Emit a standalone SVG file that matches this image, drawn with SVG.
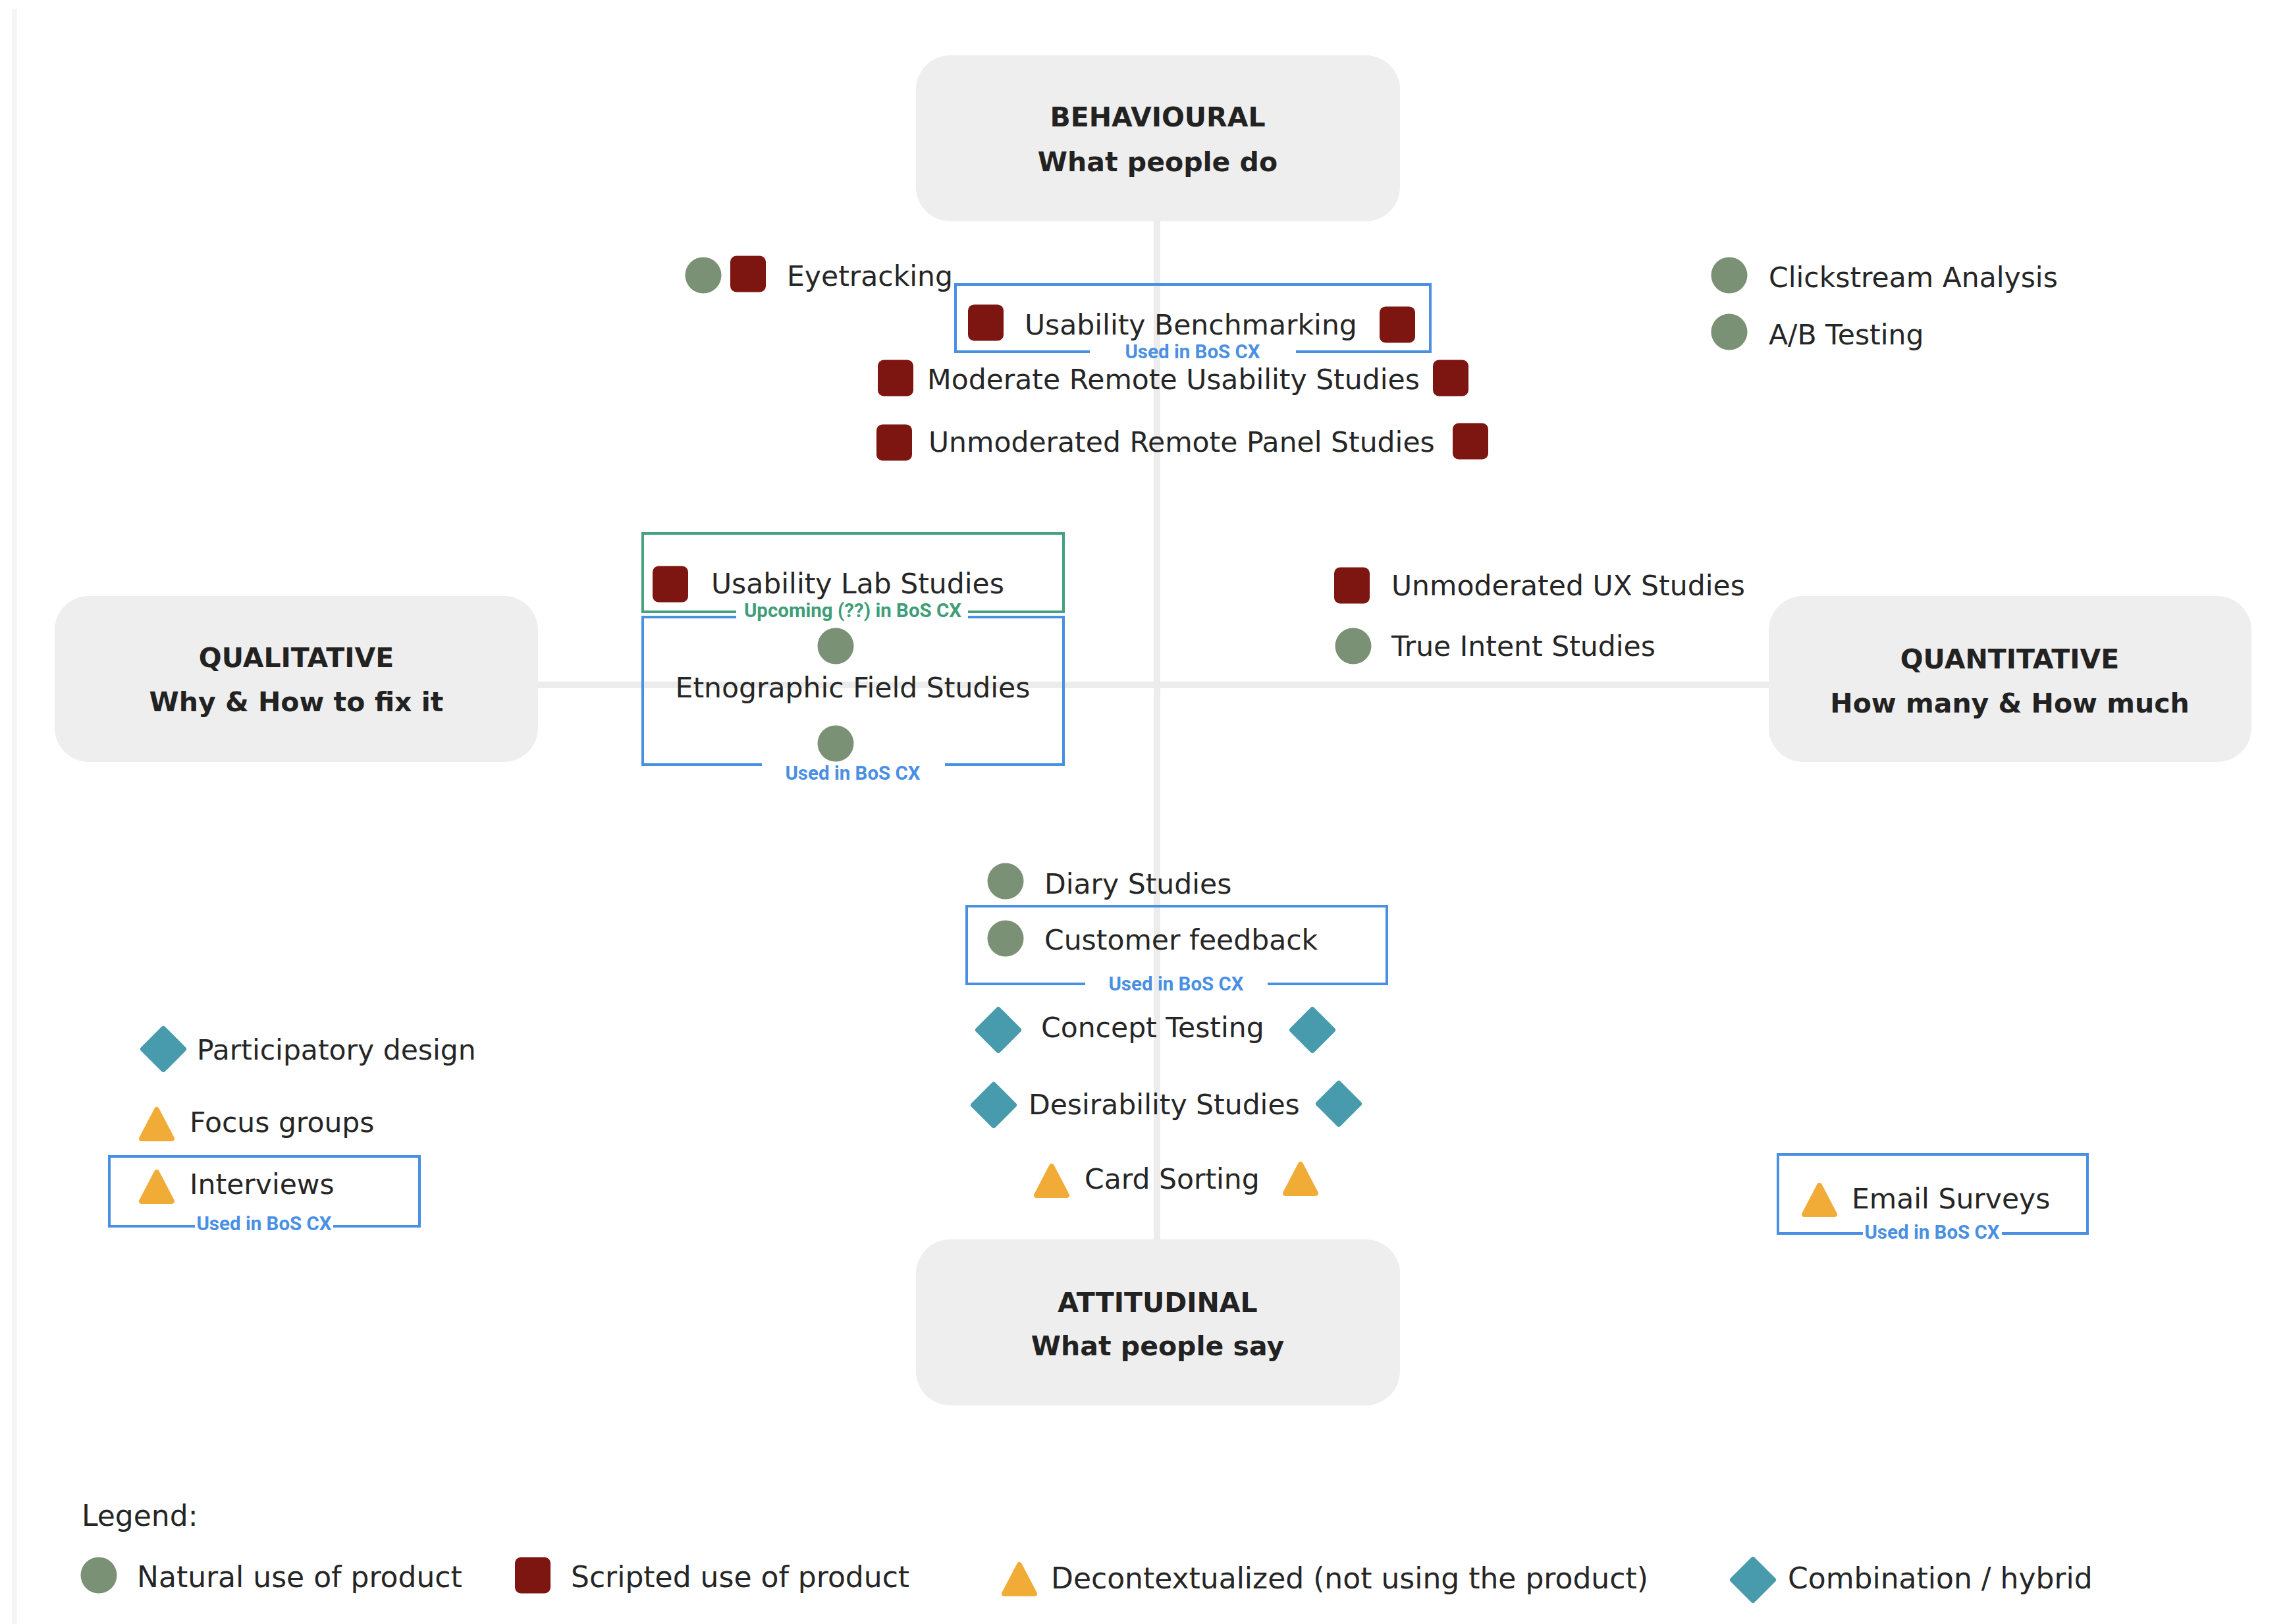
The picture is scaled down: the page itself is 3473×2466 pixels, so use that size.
<svg xmlns="http://www.w3.org/2000/svg" width="3473" height="2466" viewBox="0 0 3473 2466">
  <style>
    .bg { fill: #ffffff; }
    .edge { stroke: #f5f5f5; stroke-width: 8; fill: none; }
    .axis { stroke: #ececec; stroke-width: 10; fill: none; }
    .pole { fill: #eeeeee; }
    .title { font-family: "DejaVu Sans", "Liberation Sans", sans-serif; font-weight: bold; font-size: 41px; fill: #222222; text-anchor: middle; }
    .item { font-family: "DejaVu Sans", "Liberation Sans", sans-serif; font-size: 42.5px; fill: #262626; }
    .legend { font-family: "DejaVu Sans", "Liberation Sans", sans-serif; font-size: 44px; fill: #262626; }
    .nat { fill: #7b9175; }
    .scr { fill: #7d1510; }
    .hyb { fill: #489bac; stroke: #489bac; stroke-width: 8; stroke-linejoin: round; }
    .dec { fill: #f0ac37; stroke: #f0ac37; stroke-width: 8; stroke-linejoin: round; }
    .frame-used { fill: none; stroke: #4a90e2; stroke-width: 4; }
    .frame-next { fill: none; stroke: #45a27e; stroke-width: 4; }
    .tag { font-family: Roboto, "Liberation Sans", sans-serif; font-weight: bold; font-size: 29.5px; text-anchor: middle; }
    .tag-used { fill: #4a90e2; }
    .tag-next { fill: #3f9e77; }
  </style>
  <defs>
    <circle id="natural" class="nat" r="27.5"/>
    <rect id="scripted" class="scr" x="-27" y="-27.5" width="54" height="55" rx="9"/>
    <path id="hybrid" class="hyb" d="M0,-31 L31,0 L0,31 L-31,0 Z"/>
    <path id="decontext" class="dec" d="M0,-22 L23,22 L-23,22 Z"/>
  </defs>

  <rect class="bg" x="0" y="0" width="3473" height="2466"/>
  <line class="edge" x1="22" y1="13" x2="22" y2="2466"/>

  <!-- axes -->
  <g id="connectors">
    <line class="axis" x1="1757" y1="330" x2="1757" y2="1888"/>
    <line class="axis" x1="812" y1="1040" x2="2690" y2="1040"/>
  </g>

  <!-- poles -->
  <g id="behavioural">
    <rect class="pole" x="1391" y="84" width="735" height="252" rx="52"/>
    <text class="title" x="1758" y="192">BEHAVIOURAL</text>
    <text class="title" x="1758" y="260">What people do</text>
  </g>
  <g id="qualitative">
    <rect class="pole" x="83" y="905" width="734" height="252" rx="52"/>
    <text class="title" x="450" y="1013">QUALITATIVE</text>
    <text class="title" x="450" y="1080">Why &amp; How to fix it</text>
  </g>
  <g id="quantitative">
    <rect class="pole" x="2686" y="905" width="733" height="252" rx="52"/>
    <text class="title" x="3052" y="1015">QUANTITATIVE</text>
    <text class="title" x="3052" y="1082">How many &amp; How much</text>
  </g>
  <g id="attitudinal">
    <rect class="pole" x="1391" y="1882" width="735" height="252" rx="52"/>
    <text class="title" x="1758" y="1992">ATTITUDINAL</text>
    <text class="title" x="1758" y="2058">What people say</text>
  </g>

  <!-- methods -->
  <g id="eyetracking">
    <use href="#natural" x="1068" y="418"/>
    <use href="#scripted" x="1136" y="416"/>
    <text class="item" x="1195" y="434">Eyetracking</text>
  </g>
  <g id="usability-benchmarking">
    <path class="frame-used" d="M1655,534 H1451 V432 H2172 V534 H1968"/>
    <use href="#scripted" x="1497" y="490"/>
    <text class="item" x="1556" y="508">Usability Benchmarking</text>
    <use href="#scripted" x="2122" y="493"/>
    <text class="tag tag-used" x="1811" y="544">Used in BoS CX</text>
  </g>
  <g id="moderate-remote">
    <use href="#scripted" x="1360" y="574"/>
    <text class="item" x="1408" y="591">Moderate Remote Usability Studies</text>
    <use href="#scripted" x="2203" y="574"/>
  </g>
  <g id="unmoderated-panel">
    <use href="#scripted" x="1358" y="672"/>
    <text class="item" x="1410" y="686">Unmoderated Remote Panel Studies</text>
    <use href="#scripted" x="2233" y="670"/>
  </g>
  <g id="clickstream">
    <use href="#natural" x="2626" y="418"/>
    <text class="item" x="2686" y="436">Clickstream Analysis</text>
  </g>
  <g id="ab-testing">
    <use href="#natural" x="2626" y="504"/>
    <text class="item" x="2686" y="523">A/B Testing</text>
  </g>
  <g id="usability-lab">
    <path class="frame-next" d="M1118,929 H976 V810 H1615 V929 H1470"/>
    <use href="#scripted" x="1018" y="887"/>
    <text class="item" x="1080" y="901">Usability Lab Studies</text>
    <text class="tag tag-next" x="1295" y="937">Upcoming (??) in BoS CX</text>
  </g>
  <g id="field-studies">
    <path class="frame-used" d="M1118,937 H976 V1161 H1157 M1435,1161 H1615 V937 H1470"/>
    <use href="#natural" x="1269" y="981"/>
    <text class="item" x="1295" y="1059" text-anchor="middle">Etnographic Field Studies</text>
    <use href="#natural" x="1269" y="1129"/>
    <text class="tag tag-used" x="1295" y="1184">Used in BoS CX</text>
  </g>
  <g id="unmoderated-ux">
    <use href="#scripted" x="2053" y="889"/>
    <text class="item" x="2113" y="904">Unmoderated UX Studies</text>
  </g>
  <g id="true-intent">
    <use href="#natural" x="2055" y="981"/>
    <text class="item" x="2113" y="996">True Intent Studies</text>
  </g>
  <g id="diary">
    <use href="#natural" x="1527" y="1338"/>
    <text class="item" x="1586" y="1357">Diary Studies</text>
  </g>
  <g id="customer-feedback">
    <path class="frame-used" d="M1648,1494 H1468 V1376 H2106 V1494 H1925"/>
    <use href="#natural" x="1527" y="1425"/>
    <text class="item" x="1586" y="1442">Customer feedback</text>
    <text class="tag tag-used" x="1786" y="1504">Used in BoS CX</text>
  </g>
  <g id="concept-testing">
    <use href="#hybrid" x="1516" y="1564"/>
    <text class="item" x="1581" y="1575">Concept Testing</text>
    <use href="#hybrid" x="1993" y="1564"/>
  </g>
  <g id="desirability">
    <use href="#hybrid" x="1509" y="1678"/>
    <text class="item" x="1562" y="1692">Desirability Studies</text>
    <use href="#hybrid" x="2033" y="1676"/>
  </g>
  <g id="card-sorting">
    <use href="#decontext" x="1597" y="1793"/>
    <text class="item" x="1647" y="1805">Card Sorting</text>
    <use href="#decontext" x="1975" y="1790"/>
  </g>
  <g id="participatory-design">
    <use href="#hybrid" x="248" y="1593"/>
    <text class="item" x="299" y="1609">Participatory design</text>
  </g>
  <g id="focus-groups">
    <use href="#decontext" x="238" y="1707"/>
    <text class="item" x="288" y="1719">Focus groups</text>
  </g>
  <g id="interviews">
    <path class="frame-used" d="M296,1862 H166 V1756 H637 V1862 H506"/>
    <use href="#decontext" x="238" y="1802"/>
    <text class="item" x="288" y="1813">Interviews</text>
    <text class="tag tag-used" x="401" y="1868">Used in BoS CX</text>
  </g>
  <g id="email-surveys">
    <path class="frame-used" d="M2829,1873 H2700 V1753 H3170 V1873 H3040"/>
    <use href="#decontext" x="2763" y="1822"/>
    <text class="item" x="2812" y="1835">Email Surveys</text>
    <text class="tag tag-used" x="2934" y="1881">Used in BoS CX</text>
  </g>

  <!-- legend -->
  <g id="legend">
    <text class="legend" x="124" y="2317">Legend:</text>
    <use href="#natural" x="150" y="2392"/>
    <text class="legend" x="208" y="2410">Natural use of product</text>
    <use href="#scripted" x="809" y="2392"/>
    <text class="legend" x="867" y="2410">Scripted use of product</text>
    <use href="#decontext" x="1548" y="2398"/>
    <text class="legend" x="1596" y="2412">Decontextualized (not using the product)</text>
    <use href="#hybrid" x="2662" y="2399"/>
    <text class="legend" x="2715" y="2412">Combination / hybrid</text>
  </g>
</svg>
